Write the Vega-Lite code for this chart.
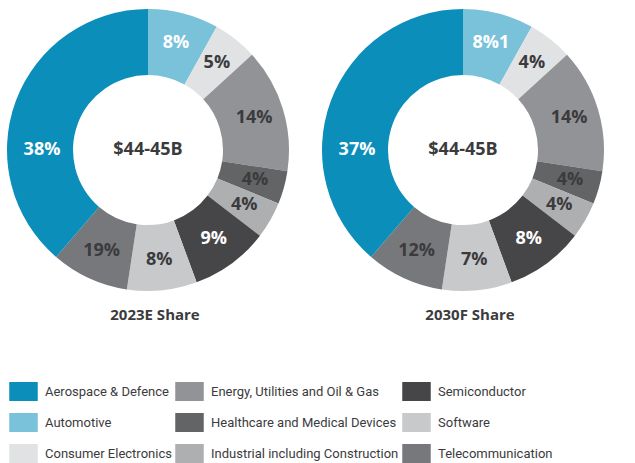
{
  "$schema": "https://vega.github.io/schema/vega-lite/v6.json",
  "padding": 0,
  "spacing": 19,
  "background": "white",
  "datasets": {
    "shares": [
      {"chart": "2023E", "pos": 1, "category": "Automotive", "share": 8.1, "label": "8%"},
      {"chart": "2023E", "pos": 2, "category": "Consumer Electronics", "share": 5.1, "label": "5%"},
      {"chart": "2023E", "pos": 3, "category": "Energy, Utilities and Oil & Gas", "share": 14.2, "label": "14%"},
      {"chart": "2023E", "pos": 4, "category": "Healthcare and Medical Devices", "share": 3.8, "label": "4%"},
      {"chart": "2023E", "pos": 5, "category": "Industrial including Construction", "share": 4.2, "label": "4%"},
      {"chart": "2023E", "pos": 6, "category": "Semiconductor", "share": 9.0, "label": "9%"},
      {"chart": "2023E", "pos": 7, "category": "Software", "share": 8.0, "label": "8%"},
      {"chart": "2023E", "pos": 8, "category": "Telecommunication", "share": 8.9, "label": "19%"},
      {"chart": "2023E", "pos": 9, "category": "Aerospace & Defence", "share": 38.7, "label": "38%"},
      {"chart": "2030F", "pos": 1, "category": "Automotive", "share": 8.1, "label": "8%1"},
      {"chart": "2030F", "pos": 2, "category": "Consumer Electronics", "share": 5.1, "label": "4%"},
      {"chart": "2030F", "pos": 3, "category": "Energy, Utilities and Oil & Gas", "share": 14.2, "label": "14%"},
      {"chart": "2030F", "pos": 4, "category": "Healthcare and Medical Devices", "share": 3.8, "label": "4%"},
      {"chart": "2030F", "pos": 5, "category": "Industrial including Construction", "share": 4.2, "label": "4%"},
      {"chart": "2030F", "pos": 6, "category": "Semiconductor", "share": 9.0, "label": "8%"},
      {"chart": "2030F", "pos": 7, "category": "Software", "share": 8.0, "label": "7%"},
      {"chart": "2030F", "pos": 8, "category": "Telecommunication", "share": 8.9, "label": "12%"},
      {"chart": "2030F", "pos": 9, "category": "Aerospace & Defence", "share": 38.7, "label": "37%"}
    ],
    "center": [{"center": "$44-45B"}]
  },
  "hconcat": [
    {
      "width": 296,
      "height": 300,
      "title": {"text": "2023E Share", "orient": "bottom", "offset": 8, "dx": 7},
      "layer": [
        {
          "data": {"name": "shares"},
          "transform": [{"filter": "datum.chart == '2023E'"}],
          "mark": {"type": "arc", "innerRadius": 75, "outerRadius": 141},
          "encoding": {
            "theta": {"field": "share", "type": "quantitative", "stack": true},
            "order": {"field": "pos", "type": "quantitative"},
            "color": {
              "field": "category", "type": "nominal",
              "scale": {
                "domain": ["Aerospace & Defence", "Automotive", "Consumer Electronics", "Energy, Utilities and Oil & Gas", "Healthcare and Medical Devices", "Industrial including Construction", "Semiconductor", "Software", "Telecommunication"],
                "range": ["#0b8eb9", "#7ac1da", "#e1e2e3", "#929396", "#636466", "#aeafb1", "#464648", "#c8c9cb", "#77787b"]
              }
            }
          }
        },
        {
          "data": {"name": "shares"},
          "transform": [{"filter": "datum.chart == '2023E'"}],
          "mark": {"type": "text", "radius": 111, "font": "Open Sans", "fontWeight": "bold", "fontSize": 18},
          "encoding": {
            "theta": {"field": "share", "type": "quantitative", "stack": true},
            "order": {"field": "pos", "type": "quantitative"},
            "detail": {"field": "category", "type": "nominal"},
            "text": {"condition": {"test": "datum.category != 'Aerospace & Defence'", "field": "label"}, "value": ""},
            "color": {"condition": {"test": "datum.category == 'Automotive' || datum.category == 'Semiconductor'", "value": "#ffffff"}, "value": "#3b3b3d"}
          }
        },
        {
          "data": {"name": "shares"},
          "transform": [{"filter": "datum.chart == '2023E'"}],
          "mark": {"type": "text", "radius": 106, "thetaOffset": -0.354, "font": "Open Sans", "fontWeight": "bold", "fontSize": 18, "color": "#ffffff"},
          "encoding": {
            "theta": {"field": "share", "type": "quantitative", "stack": true},
            "order": {"field": "pos", "type": "quantitative"},
            "detail": {"field": "category", "type": "nominal"},
            "text": {"condition": {"test": "datum.category == 'Aerospace & Defence'", "field": "label"}, "value": ""}
          }
        },
        {
          "data": {"name": "center"},
          "mark": {"type": "text", "font": "Open Sans", "fontWeight": "bold", "fontSize": 18, "color": "#3b3b3d"},
          "encoding": {"text": {"field": "center", "type": "nominal"}}
        }
      ]
    },
    {
      "width": 296,
      "height": 300,
      "title": {"text": "2030F Share", "orient": "bottom", "offset": 8, "dx": 7},
      "layer": [
        {
          "data": {"name": "shares"},
          "transform": [{"filter": "datum.chart == '2030F'"}],
          "mark": {"type": "arc", "innerRadius": 75, "outerRadius": 141},
          "encoding": {
            "theta": {"field": "share", "type": "quantitative", "stack": true},
            "order": {"field": "pos", "type": "quantitative"},
            "color": {
              "field": "category", "type": "nominal",
              "scale": {
                "domain": ["Aerospace & Defence", "Automotive", "Consumer Electronics", "Energy, Utilities and Oil & Gas", "Healthcare and Medical Devices", "Industrial including Construction", "Semiconductor", "Software", "Telecommunication"],
                "range": ["#0b8eb9", "#7ac1da", "#e1e2e3", "#929396", "#636466", "#aeafb1", "#464648", "#c8c9cb", "#77787b"]
              }
            }
          }
        },
        {
          "data": {"name": "shares"},
          "transform": [{"filter": "datum.chart == '2030F'"}],
          "mark": {"type": "text", "radius": 111, "font": "Open Sans", "fontWeight": "bold", "fontSize": 18},
          "encoding": {
            "theta": {"field": "share", "type": "quantitative", "stack": true},
            "order": {"field": "pos", "type": "quantitative"},
            "detail": {"field": "category", "type": "nominal"},
            "text": {"condition": {"test": "datum.category != 'Aerospace & Defence'", "field": "label"}, "value": ""},
            "color": {"condition": {"test": "datum.category == 'Automotive' || datum.category == 'Semiconductor'", "value": "#ffffff"}, "value": "#3b3b3d"}
          }
        },
        {
          "data": {"name": "shares"},
          "transform": [{"filter": "datum.chart == '2030F'"}],
          "mark": {"type": "text", "radius": 106, "thetaOffset": -0.354, "font": "Open Sans", "fontWeight": "bold", "fontSize": 18, "color": "#ffffff"},
          "encoding": {
            "theta": {"field": "share", "type": "quantitative", "stack": true},
            "order": {"field": "pos", "type": "quantitative"},
            "detail": {"field": "category", "type": "nominal"},
            "text": {"condition": {"test": "datum.category == 'Aerospace & Defence'", "field": "label"}, "value": ""}
          }
        },
        {
          "data": {"name": "center"},
          "mark": {"type": "text", "font": "Open Sans", "fontWeight": "bold", "fontSize": 18, "color": "#3b3b3d"},
          "encoding": {"text": {"field": "center", "type": "nominal"}}
        }
      ]
    }
  ],
  "resolve": {"scale": {"color": "shared", "theta": "independent"}},
  "config": {
    "view": {"stroke": null},
    "title": {"font": "Open Sans", "fontSize": 15, "fontWeight": "bold", "color": "#3b3b3d", "baseline": "top", "anchor": "middle"},
    "legend": {
      "orient": "none",
      "legendX": 14,
      "legendY": 382,
      "columns": 3,
      "title": null,
      "padding": 0,
      "symbolType": "M-1.5,-1H1.5V1H-1.5Z",
      "symbolSize": 361,
      "symbolStrokeWidth": 0,
      "symbolOpacity": 1,
      "labelFont": "Roboto",
      "labelFontSize": 13,
      "labelColor": "#3b3b3d",
      "labelOffset": 12,
      "labelLimit": 300,
      "columnPadding": 3,
      "rowPadding": 12
    }
  },
  "encoding": {}
}
